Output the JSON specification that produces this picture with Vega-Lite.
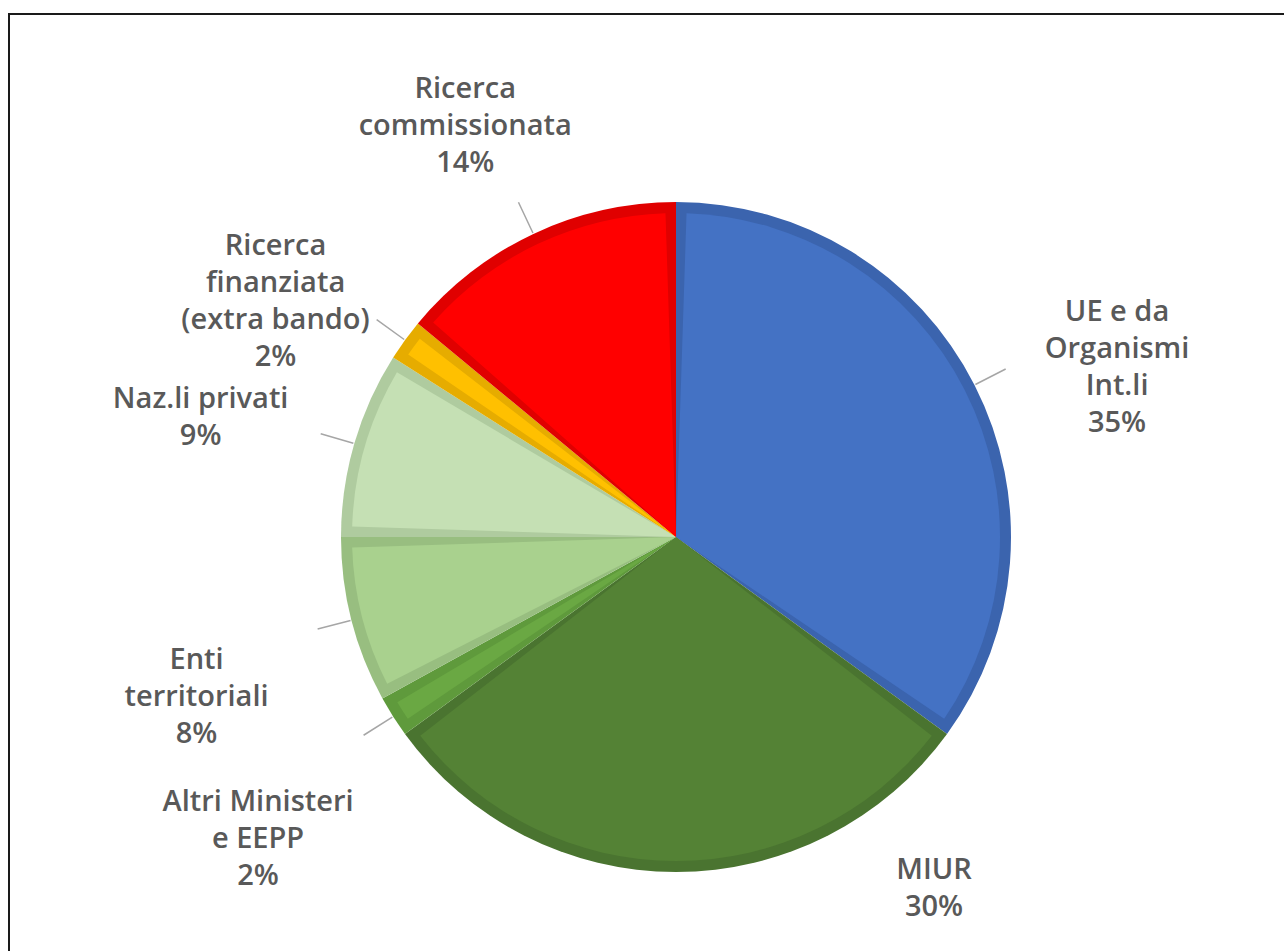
{
  "$schema": "https://vega.github.io/schema/vega-lite/v6.json",
  "autosize": {"type": "none"},
  "width": 1334,
  "height": 1046,
  "padding": {"left": 9, "top": 14, "right": -59, "bottom": -109},
  "background": "white",
  "view": {"stroke": "#1A1A1A", "strokeWidth": 2, "fill": "white"},
  "config": {
    "view": {"stroke": "#1A1A1A", "strokeWidth": 2},
    "text": {"lineBreak": "\n"}
  },
  "data": {
    "values": [
      {"cat": "UE e da Organismi Int.li", "label": "UE e da\nOrganismi\nInt.li\n35%", "value": 35, "order": 1},
      {"cat": "MIUR", "label": "MIUR\n30%", "value": 30, "order": 2},
      {"cat": "Altri Ministeri e EEPP", "label": "Altri Ministeri\ne EEPP\n2%", "value": 2, "order": 3},
      {"cat": "Enti territoriali", "label": "Enti\nterritoriali\n8%", "value": 8, "order": 4},
      {"cat": "Naz.li privati", "label": "Naz.li privati\n9%", "value": 9, "order": 5},
      {"cat": "Ricerca finanziata (extra bando)", "label": "Ricerca\nfinanziata\n(extra bando)\n2%", "value": 2, "order": 6},
      {"cat": "Ricerca commissionata", "label": "Ricerca\ncommissionata\n14%", "value": 14, "order": 7}
    ]
  },
  "layer": [
    {
      "mark": {"type": "arc", "outerRadius": 335},
      "encoding": {
        "theta": {"field": "value", "type": "quantitative", "stack": true},
        "order": {"field": "order", "type": "quantitative"},
        "color": {
          "field": "cat", "type": "nominal", "legend": null,
          "scale": {
            "domain": ["UE e da Organismi Int.li", "MIUR", "Altri Ministeri e EEPP", "Enti territoriali", "Naz.li privati", "Ricerca finanziata (extra bando)", "Ricerca commissionata"],
            "range": ["#3B64AE", "#4A7430", "#5F9A3C", "#98BE80", "#AFCB9F", "#E6AC00", "#E00000"]
          }
        }
      }
    },
    {
      "mark": {"type": "arc", "outerRadius": 324, "padAngle": 0.065},
      "encoding": {
        "theta": {"field": "value", "type": "quantitative", "stack": true},
        "order": {"field": "order", "type": "quantitative"},
        "fill": {
          "field": "cat", "type": "nominal", "legend": null,
          "scale": {
            "domain": ["UE e da Organismi Int.li", "MIUR", "Altri Ministeri e EEPP", "Enti territoriali", "Naz.li privati", "Ricerca finanziata (extra bando)", "Ricerca commissionata"],
            "range": ["#4472C4", "#548235", "#6AA843", "#A9D18E", "#C5E0B4", "#FFC000", "#FF0000"]
          }
        }
      }
    },
    {
      "mark": {"type": "arc", "outerRadius": 370, "innerRadius": 336, "padAngle": 3, "fillOpacity": 0, "stroke": "#A6A6A6", "strokeWidth": 1.5},
      "encoding": {
        "theta": {"field": "value", "type": "quantitative", "stack": true},
        "order": {"field": "order", "type": "quantitative"},
        "detail": {"field": "cat", "type": "nominal"},
        "strokeOpacity": {"condition": {"test": "datum.cat === 'MIUR'", "value": 0}, "value": 1}
      }
    },
    {
      "mark": {"type": "text", "radius": 495, "font": "Open Sans", "fontWeight": 600, "fontSize": 29, "lineHeight": 37, "color": "#595959", "align": "center", "baseline": "middle"},
      "encoding": {
        "theta": {"field": "value", "type": "quantitative", "stack": true},
        "order": {"field": "order", "type": "quantitative"},
        "detail": {"field": "cat", "type": "nominal"},
        "text": {"condition": {"test": "datum.cat === 'MIUR'", "value": ""}, "field": "label", "type": "nominal"}
      }
    },
    {
      "transform": [{"filter": "datum.cat === 'MIUR'"}],
      "mark": {"type": "text", "radius": 421, "font": "Open Sans", "fontWeight": 600, "fontSize": 29, "lineHeight": 37, "color": "#595959", "align": "center", "baseline": "middle"},
      "encoding": {
        "theta": {"datum": 39.5, "type": "quantitative"},
        "text": {"field": "label", "type": "nominal"}
      }
    }
  ],
  "resolve": {"scale": {"color": "independent", "fill": "independent"}}
}
